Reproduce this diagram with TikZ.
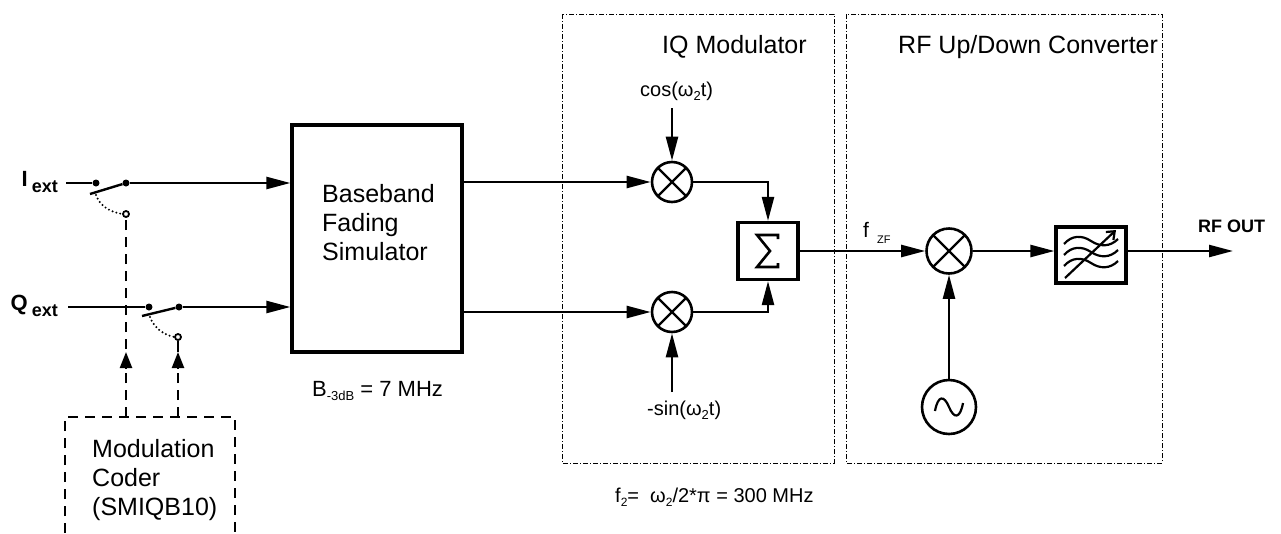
\documentclass[tikz,border=0pt]{standalone}
\usepackage{fontspec}
\setmainfont{Liberation Sans}
\usetikzlibrary{arrows.meta}
\begin{document}
\begin{tikzpicture}[x=1pt,y=-1pt]
\tikzset{
  sig/.style={line width=2.4pt},
  arr/.style={sig,-{Triangle[length=24pt,width=12pt]}},
  smallarr/.style={sig,-{Triangle[length=16pt,width=12pt]}},
  blk/.style={draw,line width=3.2pt,inner sep=0pt},
  mix/.style={draw,circle,line width=2.6pt,inner sep=0pt,
    path picture={\draw[line width=2.4pt]
      (path picture bounding box.north west) -- (path picture bounding box.south east)
      (path picture bounding box.north east) -- (path picture bounding box.south west);}},
  txt/.style={inner sep=0pt,anchor=base west},
  big/.style={txt,font=\fontsize{25}{29}\selectfont},
  mid/.style={txt,font=\fontsize{20}{24}\selectfont},
  ddbox/.style={line width=1pt,dash pattern=on 5pt off 2pt on 1pt off 2pt},
  ctrl/.style={line width=2.6pt,dash pattern=on 10pt off 7pt},
  dots/.style={line width=2.2pt,line cap=round,dash pattern=on 0pt off 4pt},
  contact/.style={circle,fill=black,inner sep=0pt,minimum size=7pt},
  opencontact/.style={circle,draw,fill=white,line width=1.8pt,inner sep=0pt,minimum size=6pt},
}
\useasboundingbox (0,0) rectangle (1281,533);

% group boxes
\draw[ddbox] (562,14) rectangle (834,463);
\draw[ddbox] (846,14) rectangle (1162,463);
\node[big] (tiq) at (662,53) {IQ Modulator};
\node[big] (trf) at (898,53) {RF Up/Down Converter};

% inputs
\node[txt,anchor=base east] (Ilbl) at (58,186) {{\fontsize{22}{22}\selectfont\bfseries I}\kern4pt\raisebox{-6pt}{\fontsize{18}{18}\selectfont\bfseries ext}};
\node[txt,anchor=base east] (Qlbl) at (58,310) {{\fontsize{22}{22}\selectfont\bfseries Q}\kern4pt\raisebox{-6pt}{\fontsize{18}{18}\selectfont\bfseries ext}};

\coordinate (Iin) at (66,183);
\coordinate (Qin) at (68,307);
\node[contact] (Ia) at (96,183) {};
\node[contact] (Ib) at (126,183) {};
\node[contact] (Qa) at (149,307) {};
\node[contact] (Qb) at (179,307) {};
\coordinate (Ibl) at (90,194);
\coordinate (Qbl) at (142,316);

% baseband box
\node[blk,minimum width=170pt,minimum height=227pt] (bb) at (377,238.5) {};
\node[big] (bb1) at (322,202) {Baseband};
\node[big] (bb2) at (322,231) {Fading};
\node[big] (bb3) at (322,260) {Simulator};
\node[txt,font=\fontsize{22}{26}\selectfont] (bw) at (312,396) {B\raisebox{-4pt}{\fontsize{13}{13}\selectfont -3dB} = 7 MHz};

% coder
\draw[ctrl] (65,533) -- (65,417) -- (235,417) -- (235,533);
\node[big] (c1) at (92,457) {Modulation};
\node[big] (c2) at (92,486) {Coder};
\node[big] (c3) at (92,515) {(SMIQB10)};
\coordinate (cL) at (126,417);
\coordinate (cR) at (178,417);

% switches
\draw[sig] (Iin) -- (Ia);
\draw[sig] (Ibl) -- (Ib);
\draw[arr] (Ib) -- (bb.west|-Ib);
\draw[sig] (Qin) -- (Qa);
\draw[sig] (Qbl) -- (Qb);
\draw[arr] (Qb) -- (bb.west|-Qb);
\node[opencontact] (Ic) at (126,214) {};
\node[opencontact] (Qc) at (178,337) {};
\draw[dots] (96,195) .. controls (100,206) and (110,212) .. (Ic.west);
\draw[dots] (150,317) .. controls (154,328) and (164,335) .. (Qc.west);

\draw[ctrl] (cL) -- (Ic.south);
\draw[ctrl] (cR) -- (178,352);
\coordinate (aL) at (126,369);
\coordinate (aLt) at (126,352);
\coordinate (aR) at (178,369);
\coordinate (aRt) at (178,352);
\draw[smallarr] (aL) -- (aLt);
\draw[smallarr] (aR) -- (aRt);
\draw[sig] (aRt) -- (Qc.south);

% IQ modulator
\node[mix,minimum size=40pt] (m1) at (672,182) {};
\node[mix,minimum size=40pt] (m2) at (672,312) {};
\node[blk,minimum width=60pt,minimum height=57pt] (sum) at (768,251) {};
\draw[line width=2.6pt] (778,239) -- (778,235) -- (757,235) -- (770,251) -- (757,267) -- (778,267) -- (778,263);

\node[mid] (cos) at (640,96) {cos(ω\raisebox{-4pt}{\fontsize{13}{13}\selectfont 2}t)};
\node[mid] (sin) at (647,415) {-sin(ω\raisebox{-4pt}{\fontsize{13}{13}\selectfont 2}t)};
\coordinate (cosend) at (672,108);
\coordinate (sinend) at (672,392);
\draw[arr] (cosend) -- (m1.north);
\draw[arr] (sinend) -- (m2.south);
\draw[arr] (bb.east|-m1) -- (m1.west);
\draw[arr] (bb.east|-m2) -- (m2.west);
\draw[arr] (m1.east) -| (sum.north);
\draw[arr] (m2.east) -| (sum.south);

\node[mid] (f2) at (615,502) {f\raisebox{-4pt}{\fontsize{12}{12}\selectfont 2}=\ \ ω\raisebox{-4pt}{\fontsize{12}{12}\selectfont 2}/2*π = 300 MHz};

% RF converter
\node[mix,minimum size=45pt] (m3) at (949,251) {};
\node[blk,minimum width=70pt,minimum height=56pt] (flt) at (1091,255) {};
\node[draw,circle,line width=2.6pt,minimum size=54pt,inner sep=0pt] (osc) at (949,407) {};
\draw[line width=2.2pt] (935,411) .. controls (938,395) and (944,395) .. (949,407) .. controls (954,419) and (960,419) .. (963,403);
\foreach \yy in {241,252,263}{
  \draw[line width=2.2pt] (1064,\yy+3) .. controls (1072,\yy-6) and (1082,\yy-6) .. (1091,\yy) .. controls (1100,\yy+6) and (1110,\yy+6) .. (1118,\yy-2);
}
\draw[line width=2.2pt,-{Straight Barb[length=7pt,width=11pt]}] (1065,278) -- (1116,230);

\node[txt,font=\fontsize{21}{21}\selectfont] (fzf) at (863,237) {f};
\node[txt,font=\fontsize{11}{11}\selectfont] (fzfs) at (877,243) {ZF};
\node[txt,font=\fontsize{18}{18}\selectfont\bfseries] (rfout) at (1198,232) {RF OUT};
\coordinate (out) at (1233,251);

\draw[arr] (sum.east|-m3) -- (m3.west);
\draw[arr] (m3.east) -- (flt.west|-m3);
\draw[arr] (flt.east|-m3) -- (out);
\draw[arr] (osc.north) -- (m3.south);
\end{tikzpicture}
\end{document}
